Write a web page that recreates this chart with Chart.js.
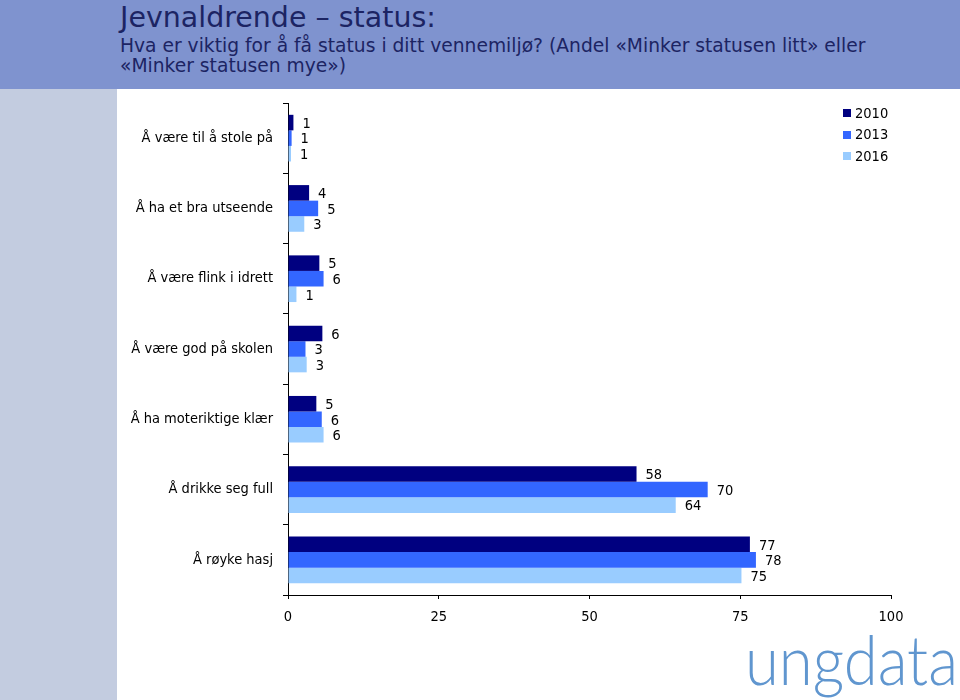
<!DOCTYPE html>
<html><head><meta charset="utf-8">
<script src="https://cdn.jsdelivr.net/npm/chart.js@4.4.1/dist/chart.umd.min.js"></script>
<style>
html,body{margin:0;padding:0;background:#fff;}
#wrap{position:relative;width:960px;height:700px;overflow:hidden;background:#fff;}
#banner{position:absolute;left:0;top:0;width:960px;height:89px;background:#7f93cf;}
#strip{position:absolute;left:0;top:89px;width:117px;height:611px;background:#c3cce0;}
#title{position:absolute;left:120px;top:3px;font-family:"DejaVu Sans",sans-serif;font-size:29px;line-height:30px;color:#1c2463;white-space:nowrap;}
#subtitle{position:absolute;left:120px;top:36px;font-family:"DejaVu Sans",sans-serif;font-size:19px;line-height:20px;color:#1c2463;white-space:nowrap;}
#logo{position:absolute;left:745px;top:624px;font-family:Lato,"Open Sans",sans-serif;font-weight:300;font-size:69px;line-height:69px;color:#6096cf;white-space:nowrap;transform-origin:0 0;}
#c{position:absolute;left:0;top:0;}
</style></head>
<body>
<div id="wrap">
  <div id="banner"></div>
  <div id="strip"></div>
  <div id="title"><span id="t1">Jevnaldrende – status:</span></div>
  <div id="subtitle"><span id="s1">Hva er viktig for å få status i ditt vennemiljø? (Andel «Minker statusen litt» eller</span><br>«Minker statusen mye»)</div>
  <span id="logo">ungdata</span>
  <canvas id="c" width="960" height="700"></canvas>
</div>
<script>
const categories = ['Å være til å stole på','Å ha et bra utseende','Å være flink i idrett','Å være god på skolen','Å ha moteriktige klær','Å drikke seg full','Å røyke hasj'];
const years = ['2010','2013','2016'];
const values2010 = [0.9, 3.5, 5.2, 5.7, 4.7, 57.8, 76.6];
const values2013 = [0.6, 5.0, 5.9, 2.9, 5.6, 69.6, 77.6];
const values2016 = [0.5, 2.7, 1.4, 3.1, 5.9, 64.3, 75.2];
const xTicks = [0, 25, 50, 75, 100];
const colors = ['#000080', '#3366ff', '#99ccff'];

const FONT = '"DejaVu Sans Condensed","DejaVu Sans",sans-serif';
const FS = 14.5;

// fit header text widths and baselines
function fitText(boxId, spanId, targetW, baseline, lineH) {
  const box = document.getElementById(boxId);
  const span = document.getElementById(spanId);
  const f0 = parseFloat(getComputedStyle(box).fontSize);
  const w = span.getBoundingClientRect().width;
  const f = f0 * targetW / w;
  box.style.fontSize = f + 'px';
  const top = baseline - ((lineH - 1.164 * f) / 2 + 0.928 * f);
  box.style.top = top + 'px';
}
fitText('title', 't1', 316, 28.3, 30);
fitText('subtitle', 's1', 746, 52.5, 20);
(function(){
  const l = document.getElementById('logo');
  const w = l.getBoundingClientRect().width;
  l.style.transform = 'scaleX(' + (213 / w) + ')';
})();

const dataLabels = {
  id: 'dataLabels',
  afterDatasetsDraw(chart) {
    const ctx = chart.ctx;
    ctx.save();
    ctx.font = FS + 'px ' + FONT;
    ctx.fillStyle = '#000';
    ctx.textAlign = 'left';
    ctx.textBaseline = 'middle';
    chart.data.datasets.forEach((ds, i) => {
      chart.getDatasetMeta(i).data.forEach((bar, j) => {
        ctx.fillText(String(Math.round(ds.data[j])), bar.x + 9, bar.y + 1.5);
      });
    });
    ctx.restore();
  }
};

const customLegend = {
  id: 'customLegend',
  afterDraw(chart) {
    const ctx = chart.ctx;
    ctx.save();
    ctx.font = FS + 'px ' + FONT;
    ctx.textAlign = 'left';
    ctx.textBaseline = 'middle';
    chart.data.datasets.forEach((ds, i) => {
      const cy = 113 + i * 21.7;
      ctx.fillStyle = ds.backgroundColor;
      ctx.fillRect(843, Math.round(cy - 4), 8, 8);
      ctx.fillStyle = '#000';
      ctx.fillText(ds.label, 855, cy + 1);
    });
    ctx.restore();
  }
};

new Chart(document.getElementById('c'), {
  type: 'bar',
  data: {
    labels: categories,
    datasets: [
      { label: years[0], data: values2010, backgroundColor: colors[0] },
      { label: years[1], data: values2013, backgroundColor: colors[1] },
      { label: years[2], data: values2016, backgroundColor: colors[2] }
    ]
  },
  options: {
    indexAxis: 'y',
    responsive: false,
    animation: false,
    devicePixelRatio: 1,
    categoryPercentage: 0.664,
    barPercentage: 1.0,
    borderWidth: 0,
    layout: { padding: { left: 117, top: 103, right: 69, bottom: 0 } },
    plugins: { legend: { display: false }, title: { display: false }, tooltip: { enabled: false } },
    scales: {
      x: {
        min: 0, max: 100,
        afterBuildTicks: s => { s.ticks = xTicks.map(v => ({ value: v })); },
        afterFit: s => { s.height = 105; },
        ticks: { color: '#000', font: { family: FONT, size: FS }, padding: 10, maxRotation: 0 },
        grid: { drawOnChartArea: false, tickLength: 4, color: '#000' },
        border: { color: '#000', width: 1 }
      },
      y: {
        afterFit: s => { s.width = 171; },
        ticks: { color: '#000', font: { family: FONT, size: FS }, padding: 10 },
        grid: { drawOnChartArea: false, tickLength: 5, color: '#000', offset: true },
        border: { color: '#000', width: 1 }
      }
    }
  },
  plugins: [dataLabels, customLegend]
});
</script>
</body></html>
